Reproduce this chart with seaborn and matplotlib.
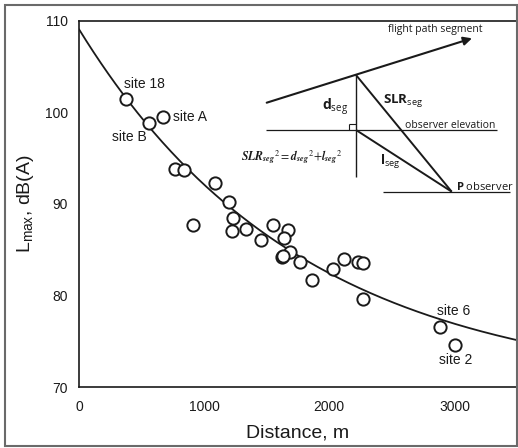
import numpy as np
import pandas as pd
import matplotlib
matplotlib.use("Agg")
import matplotlib.pyplot as plt
from matplotlib.patches import Rectangle, FancyArrowPatch
import seaborn as sns

# ---- data ----
distance = [376, 560, 675, 768, 837, 909, 1083, 1197, 1229, 1226, 1331, 1453,
            1547, 1667, 1637, 1688, 1624, 1632, 1768, 1864, 2032, 2120, 2231,
            2269, 2269, 2888, 3003]
lmax = [101.5, 98.8, 99.5, 93.8, 93.75, 87.7, 92.3, 90.2, 88.5, 87.05, 87.3, 86.1,
        87.7, 87.2, 86.3, 84.7, 84.2, 84.3, 83.7, 81.7, 82.85, 84.0, 83.7,
        83.5, 79.6, 76.6, 74.55]
# fitted curve coefficients: L = c + A * exp(-d / tau)
fit_c, fit_A, fit_tau = 69.6, 39.5, 1779.0
site_labels = ["site 18", "site A", "site B", "site 6", "site 2"]
site_label_x = [520, 750, 400, 2994, 3010]
site_label_y = [103.1, 99.5, 97.35, 78.3, 72.95]
site_label_ha = ["center", "left", "center", "center", "center"]
x_ticks = [0, 1000, 2000, 3000]
y_ticks = [70, 80, 90, 100, 110]

sns.set_style("white")
plt.rcParams["font.family"] = ["Liberation Sans", "DejaVu Sans"]
plt.rcParams["mathtext.fontset"] = "custom"
plt.rcParams["mathtext.rm"] = "Open Sans"
plt.rcParams["mathtext.bf"] = "Open Sans:bold"
plt.rcParams["mathtext.it"] = "Open Sans:italic"

W, H = 518, 448
fig = plt.figure(figsize=(W / 100, H / 100), dpi=100)
fig.patch.set_facecolor("white")
ax = fig.add_axes([79 / W, 1 - 387 / H, (517 - 79) / W, (387 - 21) / H])
ax.set_facecolor("white")

df = pd.DataFrame({"Distance": distance, "Lmax": lmax})
dc = np.linspace(0, 3500, 300)
curve = pd.DataFrame({"Distance": dc, "Lmax": fit_c + fit_A * np.exp(-dc / fit_tau)})

sns.lineplot(data=curve, x="Distance", y="Lmax", ax=ax, color="#1a1a1a", lw=1.3, zorder=2)
sns.scatterplot(data=df, x="Distance", y="Lmax", ax=ax, s=78, marker="o",
                facecolor="white", edgecolor="#1a1a1a", linewidth=1.4, zorder=3)

for lab, lx, ly, ha in zip(site_labels, site_label_x, site_label_y, site_label_ha):
    ax.text(lx, ly, lab, ha=ha, va="center", fontsize=10, color="#1a1a1a")

ax.set_xlim(0, 3500)
ax.set_ylim(70, 110)
ax.set_xticks(x_ticks)
ax.set_yticks(y_ticks)
ax.set_xticks(np.arange(0, 3501, 200), minor=True)
ax.tick_params(axis="both", which="major", direction="in", length=5, width=1.1,
               labelsize=10, colors="#1a1a1a", pad=8)
ax.tick_params(axis="x", which="minor", direction="in", length=3, width=1.0)
ax.tick_params(axis="x", which="major", pad=9)
for s in ax.spines.values():
    s.set_color("#1a1a1a")
    s.set_linewidth(1.2)
ax.spines["right"].set_visible(False)
ax.set_xlabel("Distance, m", fontsize=14, color="#1a1a1a", labelpad=8)
ax.set_ylabel(r"L$_{\mathregular{max}}$, dB(A)", fontsize=14, color="#1a1a1a", labelpad=6)

# ---- inset geometry diagram (pixel positions -> axes fraction) ----
def P(px, py):
    return ((px - 79) / (517 - 79), (387 - py) / (387 - 21))

lc = "#1a1a1a"
def seg(a, b, lw=1.2):
    (x0, y0), (x1, y1) = P(*a), P(*b)
    ax.plot([x0, x1], [y0, y1], transform=ax.transAxes, color=lc, lw=lw,
            solid_capstyle="butt", zorder=4)

arr = FancyArrowPatch(P(266.7, 102.7), P(472, 38.3), transform=ax.transAxes,
                      arrowstyle="-|>,head_length=5,head_width=2.5", color=lc,
                      lw=1.5, shrinkA=0, shrinkB=0, zorder=4)
ax.add_patch(arr)
seg((356, 75), (356, 176.7), 1.0)
seg((266, 130), (496.7, 130), 0.9)
seg((356, 75), (451.7, 191.7), 1.4)
seg((356, 130), (451.7, 191.7), 1.4)
seg((383.3, 191.7), (510, 191.7), 0.9)
seg((349.3, 124), (356, 124), 0.8)
seg((349.3, 124), (349.3, 130), 0.8)

dfont = ["Open Sans", "DejaVu Sans"]
ax.text(*P(435, 29.5), "flight path segment", transform=ax.transAxes, ha="center",
        va="center", fontsize=7.5, family=dfont, color=lc)
ax.text(*P(335, 107), r"$\mathbf{d}_{\mathregular{seg}}$", transform=ax.transAxes,
        ha="center", va="center", fontsize=10, family=dfont, color=lc)
ax.text(*P(403, 101), r"$\mathbf{SLR}_{\mathregular{seg}}$", transform=ax.transAxes,
        ha="center", va="center", fontsize=9.5, family=dfont, color=lc)
ax.text(*P(450, 125), "observer elevation", transform=ax.transAxes, ha="center",
        va="center", fontsize=7.5, family=dfont, color=lc)
ax.text(*P(390, 162), r"$\mathbf{l}_{\mathregular{seg}}$", transform=ax.transAxes,
        ha="center", va="center", fontsize=9.5, family=dfont, color=lc)
ax.text(*P(456, 186.5), r"$\mathbf{P}$ observer", transform=ax.transAxes,
        ha="left", va="center", fontsize=8, family=dfont, color=lc)
ax.text(*P(291.5, 157),
        r"$\mathbfit{SLR}_{\mathbfit{seg}}{}^{2}=\mathbfit{d}_{\mathbfit{seg}}{}^{2}\!+\!\mathbfit{l}_{\mathbfit{seg}}{}^{2}$",
        transform=ax.transAxes, ha="center", va="center", fontsize=8.5,
        math_fontfamily="stix", color=lc)

# outer frame
fig.patches.append(Rectangle((5 / W, 1 - 446 / H), (517 - 5) / W, (446 - 5) / H,
                             transform=fig.transFigure, fill=False,
                             edgecolor="#6a6a6a", lw=1.5, zorder=10))

fig.savefig("out.png", dpi=100)
